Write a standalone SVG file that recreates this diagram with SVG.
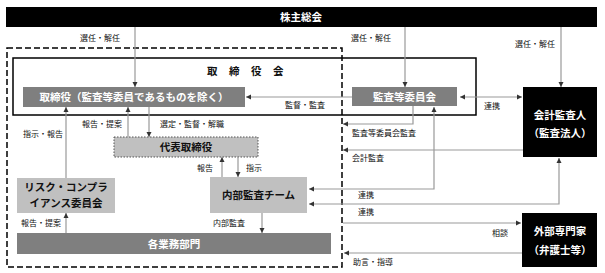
<svg xmlns="http://www.w3.org/2000/svg" width="605" height="273" viewBox="0 0 605 273">
<style>
  .lbl{font-family:"Noto Sans CJK JP","Noto Sans",sans-serif;font-size:8px;fill:#111}
  .bw{font-family:"Noto Sans CJK JP","Noto Sans",sans-serif;font-size:10.5px;font-weight:bold;fill:#fff;text-anchor:middle}
  .bb{font-family:"Noto Sans CJK JP","Noto Sans",sans-serif;font-size:10.5px;font-weight:bold;fill:#111;text-anchor:middle}
  .ln{fill:none;stroke:#999;stroke-width:1.2}
  .blk{fill:#000}
  .dg{fill:#7f7f7f}
  .lg{fill:#c0c0c0}
</style>
<defs>
  <marker id="ah" markerWidth="6" markerHeight="6" refX="5" refY="3" orient="auto" markerUnits="userSpaceOnUse">
    <path d="M0,0.5 L5,3 L0,5.5 z" fill="#333"/>
  </marker>
  <marker id="as" markerWidth="6" markerHeight="6" refX="0" refY="3" orient="auto" markerUnits="userSpaceOnUse">
    <path d="M5,0.5 L0,3 L5,5.5 z" fill="#333"/>
  </marker>
</defs>

<g id="group-boundary">
  <rect x="7" y="48" width="335" height="219" fill="none" stroke="#000" stroke-width="1.5" stroke-dasharray="6,3"/>
</g>
<g id="board">
  <rect x="13" y="58" width="463" height="57" fill="none" stroke="#000" stroke-width="1.5"/>
  <text x="207" y="75" font-family="'Noto Sans CJK JP',sans-serif" font-size="10.5" font-weight="bold" fill="#111" letter-spacing="11.5">取締役会</text>
</g>

<g id="shareholders">
  <rect class="blk" x="6" y="7" width="591" height="20"/>
  <text class="bw" x="301" y="21">株主総会</text>
</g>
<g id="directors">
  <rect class="dg" x="23" y="87" width="222" height="20"/>
  <text class="bw" x="134" y="101">取締役（監査等委員であるものを除く）</text>
</g>
<g id="audit-committee">
  <rect class="dg" x="352" y="87" width="105" height="19"/>
  <text class="bw" x="404.5" y="100.5">監査等委員会</text>
</g>
<g id="accounting-auditor">
  <rect class="blk" x="523" y="87" width="74" height="70"/>
  <text class="bw" x="560" y="119">会計監査人</text>
  <text class="bw" x="560" y="137">（監査法人）</text>
</g>
<g id="representative">
  <rect class="lg" x="114" y="137" width="144" height="20" stroke="#555" stroke-width="1" stroke-dasharray="1.5,1.5"/>
  <text class="bb" x="186" y="151">代表取締役</text>
</g>
<g id="risk-compliance">
  <rect class="lg" x="17" y="178" width="98" height="35"/>
  <text class="bb" x="66" y="191">リスク・コンプラ</text>
  <text class="bb" x="66" y="207">イアンス委員会</text>
</g>
<g id="internal-audit">
  <rect class="lg" x="210" y="177" width="97" height="36"/>
  <text class="bb" x="258.5" y="199">内部監査チーム</text>
</g>
<g id="departments">
  <rect class="dg" x="17" y="233" width="314" height="21"/>
  <text class="bw" x="174" y="248">各業務部門</text>
</g>
<g id="external-experts">
  <rect class="blk" x="522" y="213" width="75" height="54"/>
  <text class="bw" x="560" y="235">外部専門家</text>
  <text class="bw" x="560" y="254">（弁護士等）</text>
</g>

<g id="connectors">
  <line class="ln" x1="135" y1="27" x2="135" y2="87" stroke="#666" marker-end="url(#ah)"/>
  <line class="ln" x1="405" y1="27" x2="405" y2="87" marker-end="url(#ah)"/>
  <line class="ln" x1="561" y1="27" x2="561" y2="87" marker-end="url(#ah)"/>
  <line class="ln" x1="352" y1="97" x2="246" y2="97" marker-end="url(#ah)"/>
  <line class="ln" x1="460" y1="97" x2="522" y2="97" marker-start="url(#as)" marker-end="url(#ah)"/>
  <line class="ln" x1="66" y1="178" x2="66" y2="107" marker-end="url(#ah)"/>
  <line class="ln" x1="66" y1="233" x2="66" y2="213" marker-end="url(#ah)"/>
  <line class="ln" x1="128" y1="137" x2="128" y2="107" marker-end="url(#ah)"/>
  <line class="ln" x1="149" y1="107" x2="149" y2="137" marker-end="url(#ah)"/>
  <line class="ln" x1="222" y1="177" x2="222" y2="157" marker-end="url(#ah)"/>
  <line class="ln" x1="238" y1="157" x2="238" y2="177" marker-end="url(#ah)"/>
  <line class="ln" x1="262" y1="213" x2="262" y2="233" marker-end="url(#ah)"/>
  <path class="ln" d="M413,106 V124 H343" marker-end="url(#ah)"/>
  <line class="ln" x1="523" y1="150" x2="343" y2="150" marker-end="url(#ah)"/>
  <path class="ln" d="M309,189 H434 V107" marker-start="url(#as)" marker-end="url(#ah)"/>
  <path class="ln" d="M309,204 H559 V158" marker-start="url(#as)" marker-end="url(#ah)"/>
  <line class="ln" x1="343" y1="223" x2="521" y2="223" marker-end="url(#ah)"/>
  <line class="ln" x1="522" y1="253" x2="344" y2="253" marker-end="url(#ah)"/>
</g>

<g id="labels">
  <text class="lbl" x="100" y="41" text-anchor="middle">選任・解任</text>
  <text class="lbl" x="371" y="41" text-anchor="middle">選任・解任</text>
  <text class="lbl" x="535" y="47" text-anchor="middle">選任・解任</text>
  <text class="lbl" x="285" y="108">監督・監査</text>
  <text class="lbl" x="492" y="109" text-anchor="middle">連携</text>
  <text class="lbl" x="23" y="137">指示・報告</text>
  <text class="lbl" x="82" y="127">報告・提案</text>
  <text class="lbl" x="160" y="127">選定・監督・解職</text>
  <text class="lbl" x="352" y="136">監査等委員会監査</text>
  <text class="lbl" x="352" y="161">会計監査</text>
  <text class="lbl" x="197" y="171">報告</text>
  <text class="lbl" x="246" y="171">指示</text>
  <text class="lbl" x="358" y="198">連携</text>
  <text class="lbl" x="358" y="215">連携</text>
  <text class="lbl" x="21" y="226">報告・提案</text>
  <text class="lbl" x="213" y="226">内部監査</text>
  <text class="lbl" x="492" y="236">相談</text>
  <text class="lbl" x="353" y="265">助言・指導</text>
</g>
</svg>
